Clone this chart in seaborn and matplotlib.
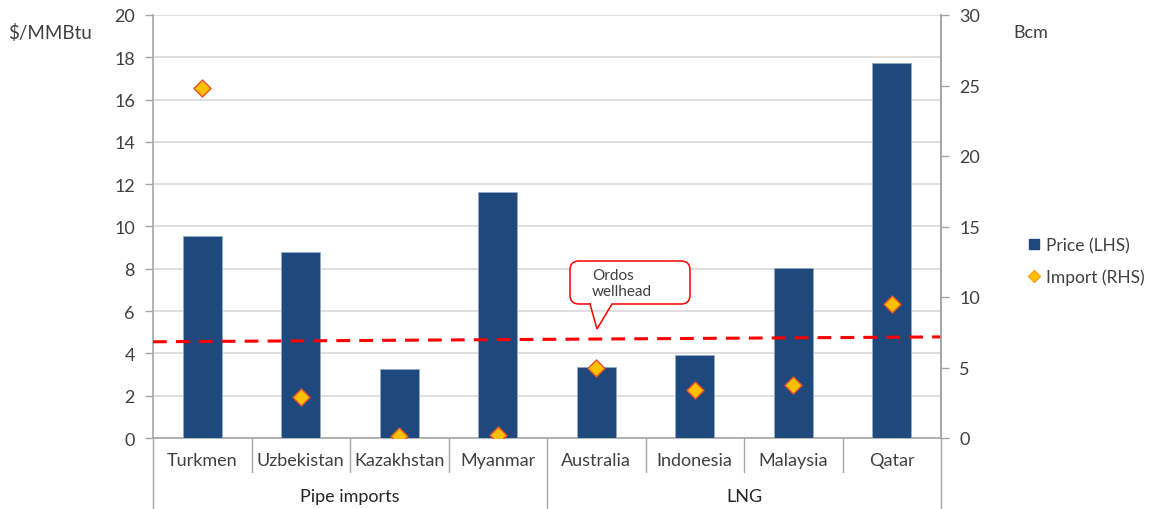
import numpy as np
import pandas as pd
import matplotlib
matplotlib.use("Agg")
import matplotlib.pyplot as plt
import matplotlib.transforms as mtransforms
from matplotlib.lines import Line2D
from matplotlib.patches import FancyBboxPatch, Polygon
import seaborn as sns

# ---- data ----
categories = ["Turkmen", "Uzbekistan", "Kazakhstan", "Myanmar",
              "Australia", "Indonesia", "Malaysia", "Qatar"]
groups = ["Pipe imports", "LNG"]
group_sizes = [4, 4]
price_lhs = [9.55, 8.8, 3.27, 11.65, 3.37, 3.93, 8.05, 17.73]      # $/MMBtu
import_rhs = [24.8, 2.9, 0.15, 0.2, 4.95, 3.4, 3.75, 9.5]          # Bcm
ordos_line_x = [-0.5, 7.5]
ordos_line_y = [4.55, 4.78]
left_ticks = list(range(0, 21, 2))
right_ticks = list(range(0, 31, 5))

df = pd.DataFrame({"country": categories, "price": price_lhs, "imports": import_rhs})
df["pos"] = np.arange(len(df))

sns.set_theme(style="white")
plt.rcParams["font.family"] = ["Lato", "DejaVu Sans"]

BLUE = "#1F497D"
GRID = "#D9D9D9"
AXC = "#A6A6A6"
TXT = "#404040"

W, H = 1155, 510
AX_L, AX_R, AX_T, AX_B = 153, 941, 16, 439

fig = plt.figure(figsize=(W/100, H/100), dpi=100)
ax = fig.add_axes([AX_L/W, 1-AX_B/H, (AX_R-AX_L)/W, (AX_B-AX_T)/H])

sns.barplot(data=df, x="country", y="price", ax=ax, color=BLUE, width=0.4,
            saturation=1, edgecolor="#8EA9C8", linewidth=0.6, zorder=3)
ax.set_xlim(-0.5, 7.5)
ax.set_ylim(0, 20)
ax.set_yticks(left_ticks)
ax.set_yticklabels([str(t) for t in left_ticks], fontsize=13, color=TXT)
ax.yaxis.grid(True, color=GRID, linewidth=1.2, zorder=0)
ax.set_axisbelow(True)
ax.set_xlabel("")
ax.set_ylabel("")
ax.tick_params(axis="y", direction="out", length=6, width=1, color=AXC, pad=7, left=True)
ax.tick_params(axis="x", length=0, pad=10, labelsize=13, labelcolor=TXT)
ax.set_xticks(range(len(categories)))
ax.set_xticklabels(categories)
ax.spines["top"].set_visible(False)
for s in ["left", "bottom", "right"]:
    ax.spines[s].set_color(AXC)
    ax.spines[s].set_linewidth(1.2)

# Ordos wellhead dashed line
ax.plot(ordos_line_x, ordos_line_y, color="#FF0000", linestyle=(0, (4.5, 3)),
        linewidth=2.2, zorder=4, clip_on=False)

# pixel -> data helpers for the callout shape (style only)
xu = (AX_R - AX_L) / 8.0
yu = (AX_B - AX_T) / 20.0
def px(xp, yp):
    return ((xp - AX_L) / xu - 0.5, (AX_B - yp) / yu)

bx0, by0 = px(570, 305)
bx1, by1 = px(690, 262)
box = FancyBboxPatch((bx0, by0), bx1 - bx0, by1 - by0,
                     boxstyle="round,pad=0,rounding_size=0.09",
                     mutation_aspect=xu / yu, fc="white", ec="#FF0000", lw=1.1,
                     zorder=6)
ax.add_patch(box)
cover = Polygon([px(590.5, 303), px(611.5, 303), px(611.5, 306.5), px(590.5, 306.5)],
                closed=True, fc="white", ec="none", zorder=7)
ax.add_patch(cover)
ax.plot(*zip(px(590, 305), px(597, 330), px(612, 305)), color="#FF0000",
        lw=1.1, zorder=8, solid_joinstyle="miter")
tx, ty = px(592, 284)
ax.text(tx, ty, "Ordos\nwellhead", fontsize=11, color=TXT, ha="left",
        va="center", linespacing=1.25, zorder=9)

# Right axis: imports
ax2 = ax.twinx()
ax2.set_position(ax.get_position())
sns.scatterplot(data=df, x="pos", y="imports", ax=ax2, marker="D", s=75,
                color="#FFC000", edgecolor="#E8502A", linewidth=1.0, zorder=5,
                legend=False)
ax2.set_ylim(0, 30)
ax2.set_yticks(right_ticks)
ax2.set_yticklabels([str(t) for t in right_ticks], fontsize=13, color=TXT)
ax2.set_xlim(-0.5, 7.5)
ax2.set_ylabel("")
ax2.set_xlabel("")
ax2.grid(False)
ax2.tick_params(axis="y", direction="out", length=6, width=1, color=AXC, pad=7, right=True)
for s in ["top", "left", "bottom"]:
    ax2.spines[s].set_visible(False)
ax2.spines["right"].set_color(AXC)
ax2.spines["right"].set_linewidth(1.2)

# Category separators and group labels
trans = mtransforms.blended_transform_factory(ax.transData, ax.transAxes)
bounds = np.cumsum([0] + group_sizes) - 0.5
for i in range(len(categories) + 1):
    x = i - 0.5
    ybot = -0.168 if x in bounds else -0.080
    ax.plot([x, x], [0, ybot], transform=trans, color=AXC, lw=1.0, clip_on=False)
start = -0.5
for g, n in zip(groups, group_sizes):
    ax.text(start + n/2, -0.138, g, transform=trans, ha="center", va="center",
            fontsize=13, color="#262626")
    start += n

# Axis unit labels
fig.text(8/W, 1-33/H, "$/MMBtu", fontsize=13.5, color=TXT, ha="left", va="center")
fig.text(1013/W, 1-33/H, "Bcm", fontsize=13, color=TXT, ha="left", va="center")

# Legend
handles = [Line2D([], [], marker="s", linestyle="none", markersize=7.5,
                  markerfacecolor=BLUE, markeredgecolor=BLUE, label="Price (LHS)"),
           Line2D([], [], marker="D", linestyle="none", markersize=6.5,
                  markerfacecolor="#FFC000", markeredgecolor="#F5A623", label="Import (RHS)")]
fig.legend(handles=handles, loc="center left", bbox_to_anchor=(1029/W, 1-262/H),
           frameon=False, fontsize=12.5, handlelength=0.6, handletextpad=0.4,
           labelspacing=0.85, labelcolor=TXT, borderaxespad=0, borderpad=0)

fig.savefig("out.png", dpi=100)
